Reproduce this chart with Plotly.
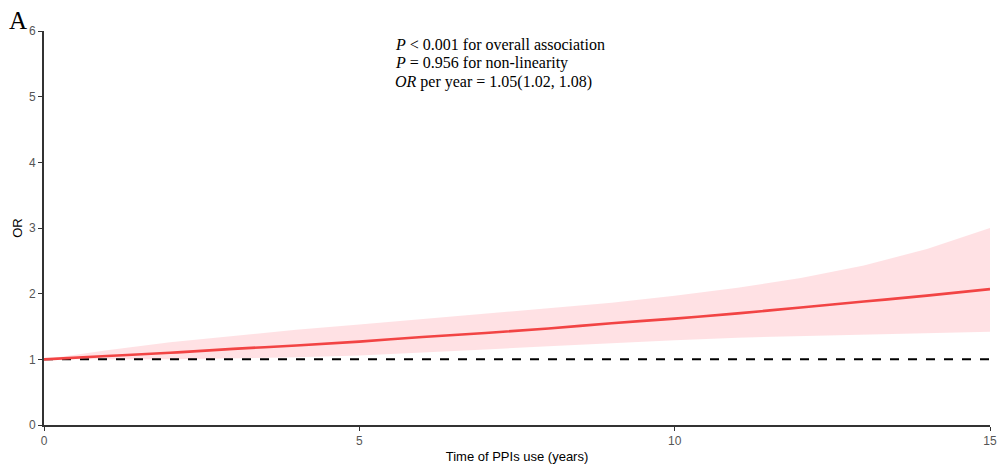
import plotly.graph_objects as go

# Restricted cubic spline estimate: OR vs. duration of PPI use
years = [0, 1, 2, 3, 4, 5, 6, 7, 8, 9, 10, 11, 12, 13, 14, 15]
or_est = [1.00, 1.05, 1.10, 1.16, 1.21, 1.27, 1.34, 1.40, 1.47, 1.55, 1.62, 1.70, 1.79, 1.88, 1.97, 2.07]
or_upper = [1.00, 1.14, 1.26, 1.36, 1.45, 1.53, 1.61, 1.69, 1.77, 1.86, 1.97, 2.09, 2.24, 2.43, 2.68, 3.00]
or_lower = [1.00, 1.00, 1.00, 1.01, 1.03, 1.06, 1.10, 1.15, 1.20, 1.25, 1.29, 1.33, 1.36, 1.38, 1.40, 1.42]

x_ticks = [0, 5, 10, 15]
y_ticks = [0, 1, 2, 3, 4, 5, 6]

stats_lines = [
    "<i>P</i> < 0.001 for overall association",
    "<i>P</i> = 0.956 for non-linearity",
    "<i>OR</i> per year = 1.05(1.02, 1.08)",
]

W, H = 997, 466
ML, MR, MT, MB = 44, 7, 31, 41
PW, PH = W - ML - MR, H - MT - MB


def px_x(px):
    return (px - ML) / PW


def px_y(py):
    return 1 - (py - MT) / PH


fig = go.Figure()

# confidence band
fig.add_trace(go.Scatter(
    x=years + years[::-1],
    y=or_upper + or_lower[::-1],
    fill="toself",
    fillcolor="rgba(255,200,205,0.55)",
    line=dict(width=0),
    hoverinfo="skip",
    showlegend=False,
))

# reference line OR = 1
fig.add_trace(go.Scatter(
    x=[years[0], years[-1]],
    y=[1, 1],
    mode="lines",
    line=dict(color="black", width=2, dash="dash"),
    showlegend=False,
))

# point estimate
fig.add_trace(go.Scatter(
    x=years,
    y=or_est,
    mode="lines",
    line=dict(color="#F24444", width=2.6, shape="spline"),
    showlegend=False,
))

axis_common = dict(
    showgrid=False,
    zeroline=False,
    showline=True,
    linecolor="#333333",
    linewidth=1.6,
    ticks="outside",
    ticklen=4,
    tickwidth=1,
    tickcolor="#333333",
    automargin=False,
    tickfont=dict(family="Liberation Sans, Arial", size=12, color="#555555"),
)

fig.update_xaxes(
    range=[0, 15],
    tickvals=x_ticks,
    title=dict(text="Time of PPIs use (years)",
               font=dict(family="Liberation Sans, Arial", size=13, color="black"),
               standoff=5),
    **axis_common,
)
fig.update_yaxes(
    range=[0, 6],
    tickvals=y_ticks,
    title=dict(text="OR",
               font=dict(family="Liberation Sans, Arial", size=13, color="black"),
               standoff=4),
    **axis_common,
)

# statistics block, one line per annotation
for i, line in enumerate(stats_lines):
    fig.add_annotation(
        x=px_x(393), y=px_y(44 + 19 * i), xref="paper", yref="paper",
        text=line, showarrow=False, align="left",
        xanchor="left", yanchor="middle",
        font=dict(family="Liberation Serif, Times New Roman", size=16, color="black"),
    )

# panel label
fig.add_annotation(
    x=px_x(7), y=px_y(5), xref="paper", yref="paper",
    text="A", showarrow=False,
    xanchor="left", yanchor="top",
    font=dict(family="Liberation Serif, Times New Roman", size=25, color="black"),
)

fig.update_layout(
    width=W, height=H,
    margin=dict(l=ML, r=MR, t=MT, b=MB),
    paper_bgcolor="white",
    plot_bgcolor="white",
)

fig.write_html("out.html")
